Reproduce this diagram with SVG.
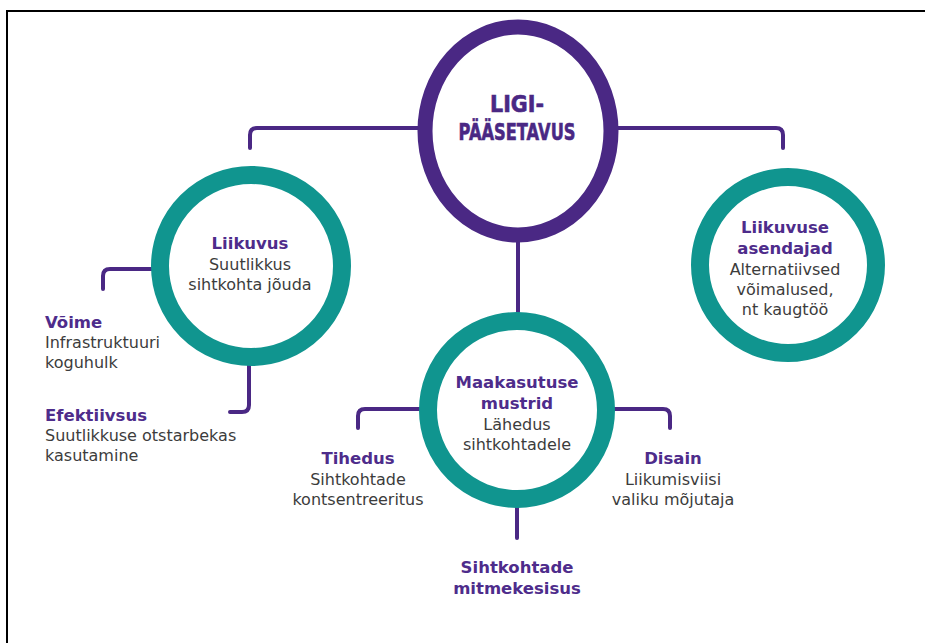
<svg xmlns="http://www.w3.org/2000/svg" width="925" height="643" viewBox="0 0 925 643">
<style>
.bg{fill:#ffffff}
.frame{stroke:#000000;stroke-width:2;fill:none}
.conn{fill:none;stroke:#4a2884;stroke-width:4;stroke-linecap:round;stroke-linejoin:round}
.main{fill:#ffffff;stroke:#4a2884;stroke-width:15}
.ring{fill:#ffffff;stroke:#10958f;stroke-width:18}
text{font-family:"DejaVu Sans","Liberation Sans",sans-serif}
.t{font-weight:700;font-size:16.5px;fill:#4e2c8b}
.b{font-size:16px;fill:#3c3c3c}
.big{font-weight:700;font-size:23px;fill:#4a2884;stroke:#4a2884;stroke-width:0.6}
.c{text-anchor:middle}
</style>
<rect class="bg" x="0" y="0" width="925" height="643"/>
<path class="frame" d="M7,643 V11 H925"/>
<g id="connectors">
  <path class="conn" d="M420,128 H257 Q250,128 250,135 V148"/>
  <path class="conn" d="M616,128 H776 Q783,128 783,135 V148"/>
  <path class="conn" d="M518,240 V312"/>
  <path class="conn" d="M155,269 H110 Q103,269 103,276 V289"/>
  <path class="conn" d="M249,362 V405 Q249,412 242,412 H230"/>
  <path class="conn" d="M420,409 H365 Q358,409 358,416 V428"/>
  <path class="conn" d="M614,409 H663 Q670,409 670,416 V428"/>
  <path class="conn" d="M517,506 V538"/>
</g>
<g id="node-ligipaasetavus">
  <ellipse class="main" cx="518" cy="131" rx="93" ry="104"/>
  <text class="big c" x="517" y="112" textLength="54" lengthAdjust="spacingAndGlyphs">LIGI-</text>
  <text class="big c" x="517" y="140" textLength="117" lengthAdjust="spacingAndGlyphs">PÄÄSETAVUS</text>
</g>
<g id="node-liikuvus">
  <circle class="ring" cx="251" cy="266" r="91"/>
  <text class="t c" x="250" y="249">Liikuvus</text>
  <text class="b c" x="250" y="270">Suutlikkus</text>
  <text class="b c" x="250" y="290">sihtkohta jõuda</text>
</g>
<g id="node-asendajad">
  <circle class="ring" cx="788" cy="265" r="88"/>
  <text class="t c" x="785" y="233">Liikuvuse</text>
  <text class="t c" x="785" y="254">asendajad</text>
  <text class="b c" x="785" y="275">Alternatiivsed</text>
  <text class="b c" x="785" y="295">võimalused,</text>
  <text class="b c" x="785" y="315">nt kaugtöö</text>
</g>
<g id="node-maakasutus">
  <circle class="ring" cx="517" cy="410" r="89"/>
  <text class="t c" x="517" y="388">Maakasutuse</text>
  <text class="t c" x="517" y="409">mustrid</text>
  <text class="b c" x="517" y="430">Lähedus</text>
  <text class="b c" x="517" y="450">sihtkohtadele</text>
</g>
<g id="node-voime">
  <text class="t" x="45" y="328">Võime</text>
  <text class="b" x="45" y="348">Infrastruktuuri</text>
  <text class="b" x="45" y="368">koguhulk</text>
</g>
<g id="node-efektiivsus">
  <text class="t" x="45" y="421">Efektiivsus</text>
  <text class="b" x="45" y="441">Suutlikkuse otstarbekas</text>
  <text class="b" x="45" y="461">kasutamine</text>
</g>
<g id="node-tihedus">
  <text class="t c" x="358" y="464">Tihedus</text>
  <text class="b c" x="358" y="485">Sihtkohtade</text>
  <text class="b c" x="358" y="505">kontsentreeritus</text>
</g>
<g id="node-disain">
  <text class="t c" x="673" y="464">Disain</text>
  <text class="b c" x="673" y="485">Liikumisviisi</text>
  <text class="b c" x="673" y="505">valiku mõjutaja</text>
</g>
<g id="node-mitmekesisus">
  <text class="t c" x="517" y="573">Sihtkohtade</text>
  <text class="t c" x="517" y="594">mitmekesisus</text>
</g>
</svg>
